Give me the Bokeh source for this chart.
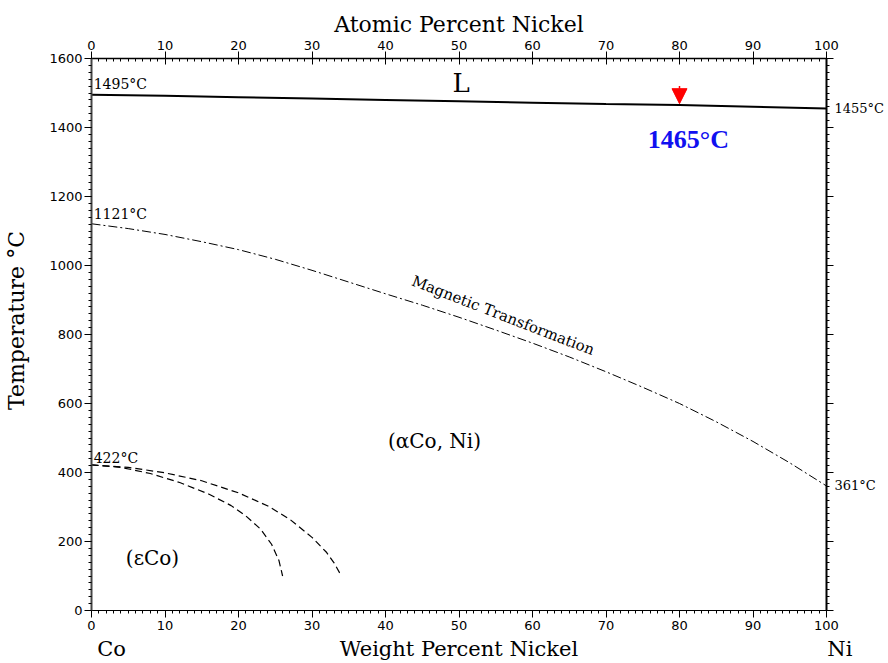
from bokeh.plotting import figure
from bokeh.models import (LinearAxis, SingleIntervalTicker, FixedTicker, Label, Arrow, NormalHead)
from bokeh.embed import file_html
from bokeh.resources import INLINE

# Co-Ni phase diagram data (wt% Ni vs temperature, deg C)
liq_wt = [0, 10, 20, 30, 40, 50, 60, 70, 80, 90, 100]
liq_T = [1495, 1492, 1488, 1484, 1480, 1476, 1472, 1468, 1465, 1460, 1455]

mag_wt = [0, 5, 10, 15, 20, 25, 30, 35, 40, 45, 50, 55, 60, 65, 70, 75, 80, 85, 90, 95, 100]
mag_T = [1121, 1107, 1090, 1069, 1046, 1018, 986, 952, 918, 885, 850, 813, 775, 735, 692, 647, 600, 547, 490, 428, 361]

eps_in_wt = [0, 4, 8, 12, 16, 19, 21, 23, 24.5, 25.5, 26]
eps_in_T = [422, 415, 397, 371, 337, 304, 274, 236, 192, 145, 100]

eps_out_wt = [0, 5, 10, 15, 20, 24, 27, 30, 32, 33, 34]
eps_out_T = [422, 415, 399, 376, 341, 303, 264, 212, 168, 138, 100]

marker_wt = 80
marker_T = 1465

x_ticks_interval = 10
y_ticks_interval = 200
y_major_ticks = list(range(0, 1601, 200))

SERIF = "DejaVu Serif"
SANS = "DejaVu Sans"
NBSP = "\u00a0"
DEG = "°C"

p = figure(width=888, height=663, x_range=(0, 100), y_range=(0, 1600),
           output_backend="svg", toolbar_location=None,
           x_axis_location=None, y_axis_location=None,
           min_border_left=91, min_border_right=62,
           min_border_top=58, min_border_bottom=53)
p.grid.visible = False
p.outline_line_color = None
p.background_fill_color = "white"
p.border_fill_color = "white"


def style_axis(ax, label_size="13px"):
    ax.axis_line_color = "black"
    ax.major_tick_line_color = "black"
    ax.minor_tick_line_color = "black"
    ax.major_label_text_font = SANS
    ax.major_label_text_font_size = label_size
    ax.major_label_text_color = "black"
    ax.axis_label_text_font = SERIF
    ax.axis_label_text_font_style = "normal"
    ax.axis_label_text_font_size = "22px"
    ax.axis_label_text_color = "black"


def bare_axis(ax):
    ax.axis_line_color = None
    ax.major_tick_line_color = None
    ax.minor_tick_line_color = None
    ax.major_tick_out = 0
    ax.major_tick_in = 0
    ax.minor_tick_out = 0
    ax.minor_tick_in = 0


# bottom axis: weight percent
bottom = LinearAxis(ticker=SingleIntervalTicker(interval=x_ticks_interval, num_minor_ticks=10))
style_axis(bottom)
bottom.major_tick_out = 7
bottom.major_tick_in = 0
bottom.minor_tick_out = 3
bottom.minor_tick_in = 0
bottom.major_label_standoff = 3
p.add_layout(bottom, "below")

# second row under the bottom axis: element names and the axis title
names = LinearAxis(ticker=FixedTicker(ticks=[0, 50, 100], minor_ticks=[]),
                   major_label_overrides={0: NBSP * 6 + "Co",
                                          50: "Weight Percent Nickel",
                                          100: NBSP * 4 + "Ni"})
style_axis(names, label_size="21px")
names.major_label_text_font = SERIF
bare_axis(names)
names.major_label_standoff = 4
p.add_layout(names, "below")

# top axis: atomic percent
top = LinearAxis(ticker=SingleIntervalTicker(interval=x_ticks_interval, num_minor_ticks=10),
                 axis_label="Atomic Percent Nickel")
style_axis(top)
top.axis_line_width = 1.5
top.major_tick_out = 7
top.major_tick_in = 6
top.minor_tick_out = 0
top.minor_tick_in = 3
top.major_label_standoff = 2
top.axis_label_standoff = 1
p.add_layout(top, "above")

# left axis: temperature
left = LinearAxis(ticker=SingleIntervalTicker(interval=y_ticks_interval, num_minor_ticks=10),
                  axis_label=NBSP * 4 + "Temperature °C")
style_axis(left)
left.axis_line_width = 2
left.axis_line_color = "#444444"
left.major_tick_out = 7
left.major_tick_in = 0
left.minor_tick_out = 3
left.minor_tick_in = 0
left.major_label_standoff = 2
left.axis_label_standoff = 17
p.add_layout(left, "left")

# right axis: ticks only
right = LinearAxis(ticker=SingleIntervalTicker(interval=y_ticks_interval, num_minor_ticks=10),
                   major_label_overrides={t: "" for t in y_major_ticks})
style_axis(right)
right.axis_line_width = 2
right.major_tick_out = 7
right.major_tick_in = 0
right.minor_tick_out = 3
right.minor_tick_in = 0
right.major_label_standoff = 0
p.add_layout(right, "right")

# pure-nickel transition temperatures written beside the right edge
ni_temps = [liq_T[-1], mag_T[-1]]
right_names = LinearAxis(ticker=FixedTicker(ticks=ni_temps, minor_ticks=[]),
                         major_label_overrides={t: f"{t}{DEG}" for t in ni_temps})
style_axis(right_names, label_size="13px")
right_names.major_label_text_font = SERIF
bare_axis(right_names)
right_names.major_label_standoff = 1
p.add_layout(right_names, "right")

# phase boundaries
p.line(liq_wt, liq_T, line_color="black", line_width=2)
p.line(mag_wt, mag_T, line_color="black", line_width=1, line_dash="9 3 2 3")
p.line(eps_in_wt, eps_in_T, line_color="black", line_width=1.2, line_dash="7 4")
p.line(eps_out_wt, eps_out_T, line_color="black", line_width=1.2, line_dash="7 4")

# marker arrow pointing at the highlighted temperature
p.add_layout(Arrow(end=NormalHead(size=15, fill_color="red", line_color="red", line_width=1),
                   x_start=marker_wt, y_start=marker_T + 55,
                   x_end=marker_wt, y_end=marker_T + 4,
                   line_color="red", line_width=1.5))


def add_label(x, y, text, size, font=SERIF, color="black", align="left",
              style="normal", angle=0.0):
    p.add_layout(Label(x=x, y=y, text=text, text_font=font, text_font_size=size,
                       text_color=color, text_align=align, text_baseline="middle",
                       text_font_style=style, angle=angle, angle_units="rad"))


add_label(81.2, 1365, f"{marker_T}°C", "26px", font="Liberation Serif",
          color="#1010f0", align="center", style="bold")
add_label(0.3, 1525, f"{liq_T[0]}{DEG}", "14px")
add_label(0.3, 1148, f"{mag_T[0]}{DEG}", "14px")
add_label(0.3, 441, f"{eps_in_T[0]}{DEG}", "14px")

add_label(50.3, 1528, "L", "26px", align="center")
add_label(47.1, 490, "(αCo,  Ni)", "20px", align="center")
add_label(8.3, 151, "(εCo)", "20px", align="center")
add_label(56.0, 855, "Magnetic Transformation", "15px", align="center", angle=-0.37)

open("out.html", "w").write(file_html(p, INLINE))
